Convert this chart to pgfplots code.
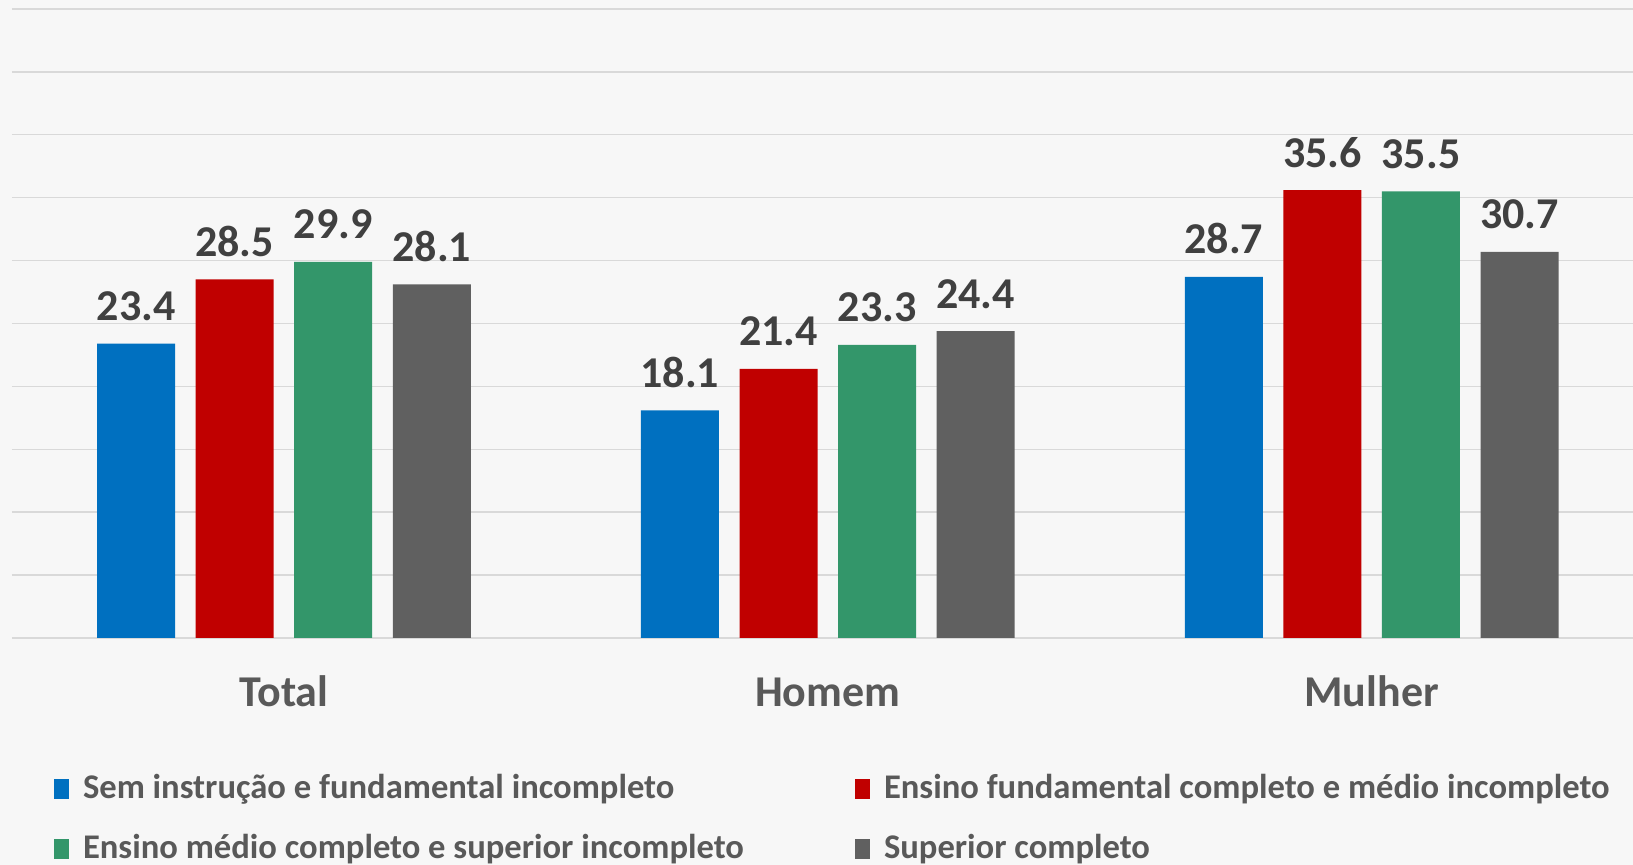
\documentclass[border=0pt]{standalone}
\usepackage{fontspec}
\setmainfont{Carlito}
\usepackage{pgfplots}
\pgfplotsset{compat=1.18}
\definecolor{cblue}{HTML}{0070C0}
\definecolor{cred}{HTML}{C00000}
\definecolor{cgreen}{HTML}{33966A}
\definecolor{cgray}{HTML}{606060}
\definecolor{bg}{HTML}{F7F7F7}
\definecolor{gridc}{HTML}{D9D9D9}
\definecolor{lbl}{HTML}{404040}
\definecolor{txt}{HTML}{595959}
\begin{document}
\begin{tikzpicture}
\useasboundingbox (0,0) rectangle (816.5pt,432.5pt);
\fill[bg] (0,0) rectangle (816.5pt,432.5pt);
\begin{scope}
\clip (0,0) rectangle (816.5pt,432.5pt);
\begin{axis}[
  at={(6pt,113.5pt)}, anchor=south west,
  scale only axis, width=815.8pt, height=314.5pt,
  xmin=-0.5, xmax=2.5, ymin=0, ymax=50,
  ybar=10.3pt, bar width=39pt,
  legend image code/.code={\fill[#1,draw=none] (0pt,0pt) rectangle (7.5pt,10pt);},
  xtick={0,1,2}, xticklabels={Total,Homem,Mulher},
  ytick={0,5,...,50}, yticklabels={},
  major tick length=0pt,
  axis line style={draw=none},
  ymajorgrids, grid style={gridc, line width=0.7pt},
  clip=false,
  xticklabel style={anchor=base, yshift=-34.5pt, font=\fontsize{22}{26}\selectfont\bfseries, text=txt},
  nodes near coords,
  nodes near coords style={anchor=base, yshift=11.5pt, font=\fontsize{22}{26}\selectfont\bfseries, text=lbl},
  /pgf/number format/fixed, /pgf/number format/fixed zerofill,
  /pgf/number format/precision=1, /pgf/number format/assume math mode=true,
  legend columns=2,
  legend style={draw=none, fill=none, at={(rel axis cs:0,0)}, anchor=north west,
    xshift=21pt, yshift=-69.5pt, inner sep=0pt, outer sep=0pt,
    column sep=7pt, row sep=16pt,
    font=\fontsize{17.3}{20}\selectfont\bfseries, text=txt,
    nodes={inner sep=0pt, outer sep=0pt, anchor=base west, text height=11pt, text depth=3pt}},
]
\addplot[fill=cblue, draw=none] coordinates {(0,23.4) (1,18.1) (2,28.7)};
\addlegendentry{\makebox[379pt][l]{Sem instrução e fundamental incompleto}}
\addplot[fill=cred, draw=none] coordinates {(0,28.5) (1,21.4) (2,35.6)};
\addlegendentry{Ensino fundamental completo e médio incompleto}
\addplot[fill=cgreen, draw=none] coordinates {(0,29.9) (1,23.3) (2,35.5)};
\addlegendentry{\makebox[379pt][l]{Ensino médio completo e superior incompleto}}
\addplot[fill=cgray, draw=none] coordinates {(0,28.1) (1,24.4) (2,30.7)};
\addlegendentry{Superior completo}
\end{axis}
\end{scope}
\end{tikzpicture}
\end{document}
